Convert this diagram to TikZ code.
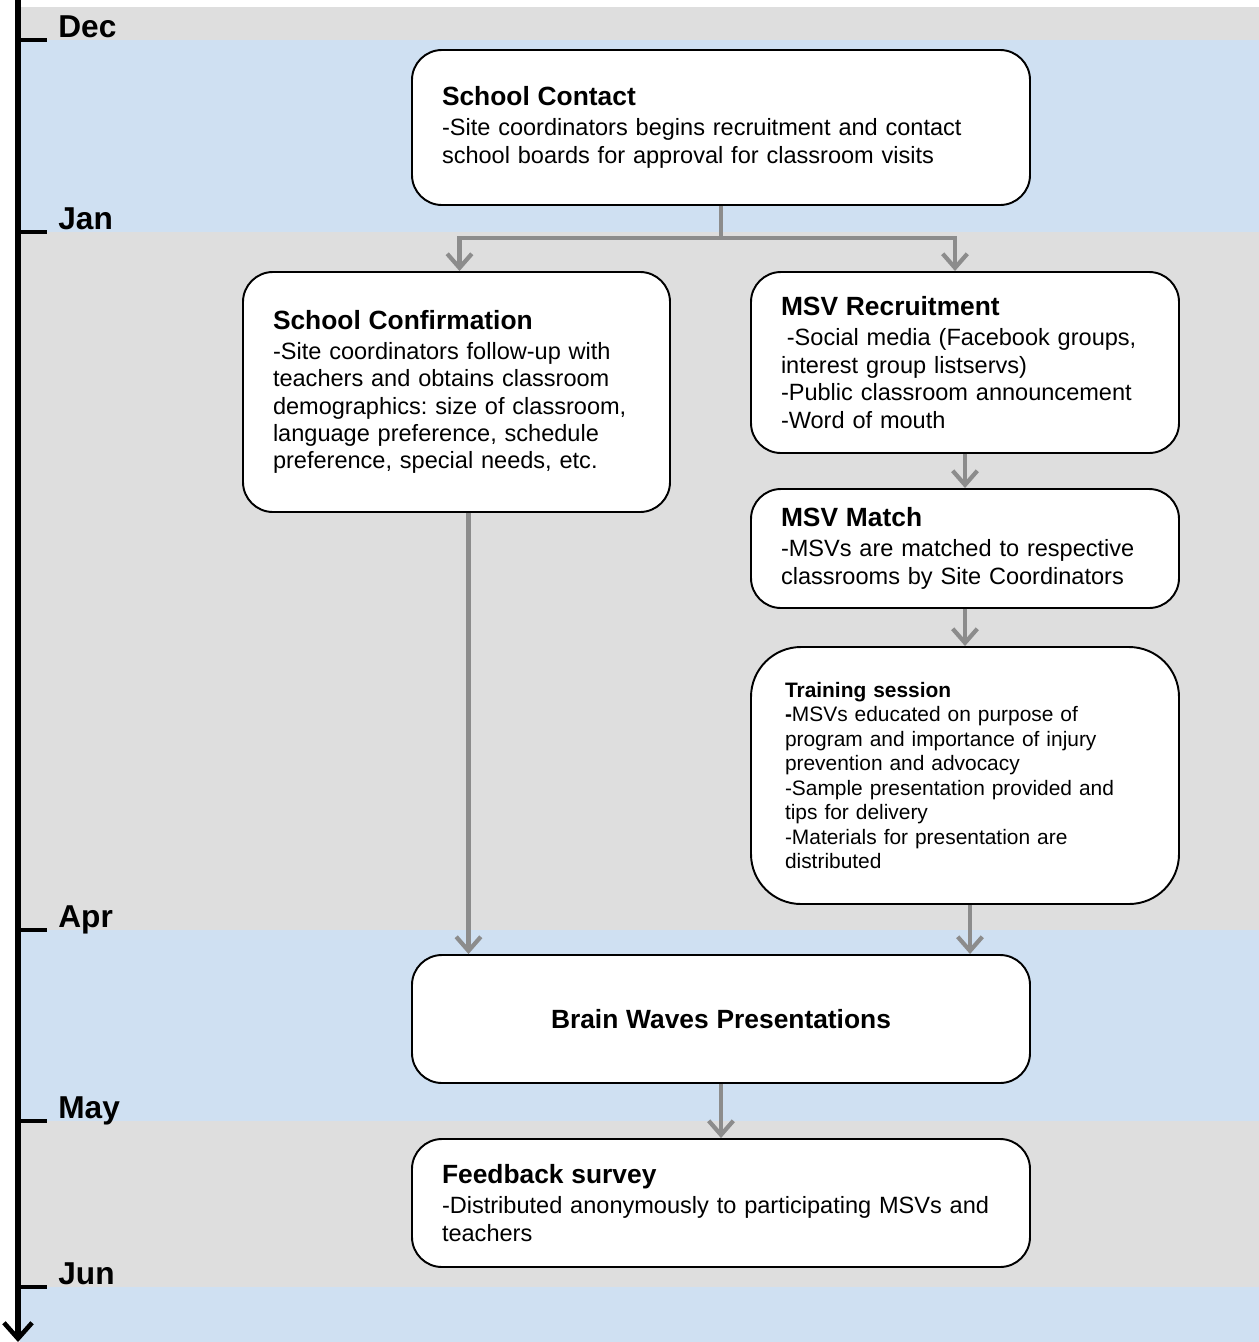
\documentclass[tikz,border=0pt]{standalone}
\usepackage{fontspec}
\setmainfont{Liberation Sans}
\usetikzlibrary{arrows.meta, positioning}
\frenchspacing

\definecolor{bandgray}{RGB}{222,222,222}
\definecolor{bandblue}{RGB}{207,224,242}
\definecolor{flowgray}{RGB}{140,140,140}

\tikzset{
  stage/.style={draw, line width=1.1pt, fill=white, rounded corners=0.6cm, align=left,
    inner xsep=0.6cm, inner ysep=0pt, font=\fontsize{13.4}{15.6}\selectfont},
  flow/.style={draw=flowgray, line width=2.6pt},
  flowarrow/.style={flow, -{Straight Barb[length=8pt,width=14pt,line width=2.4pt]}},
  month/.style={font=\fontsize{18}{20}\selectfont\bfseries, anchor=base west, inner sep=0pt},
}
\newcommand{\stagetitle}[1]{{\fontsize{15}{17}\selectfont\bfseries #1}}

\begin{document}
\begin{tikzpicture}
  \useasboundingbox (0,0) rectangle (25.18,-26.84);

  % month bands
  \foreach \top/\bot/\col in {0.14/0.8/bandgray, 0.8/4.64/bandblue, 4.64/18.6/bandgray,
      18.6/22.42/bandblue, 22.42/25.74/bandgray, 25.74/26.84/bandblue}
    \fill[\col] (0.4,-\top) rectangle (25.18,-\bot);

  % time axis
  \draw[line width=3pt, -{Straight Barb[length=9pt,width=16pt,line width=2.6pt]}] (0.36,0) -- (0.36,-26.84);
  \foreach \y/\m in {0.8/Dec, 4.64/Jan, 18.6/Apr, 22.42/May, 25.74/Jun} {
    \draw[line width=2.2pt] (0.36,-\y) -- (0.94,-\y);
    \node[month] (m-\m) at (1.16,-\y+0.06) {\m};
  }

  % stages
  \node[stage, text width=11.16cm, minimum height=3.1cm] (contact) at (14.42,-2.55)
    {\stagetitle{School Contact}\\[1.5pt]
     -Site coordinators begins recruitment and contact\\
     school boards for approval for classroom visits};
  \node[stage, text width=7.34cm, minimum height=4.8cm] (confirm) at (9.13,-7.84)
    {\stagetitle{School Confirmation}\\[1.5pt]
     -Site coordinators follow-up with\\
     teachers and obtains classroom\\
     demographics: size of classroom,\\
     language preference, schedule\\
     preference, special needs, etc.};
  \node[stage, text width=7.36cm, minimum height=3.62cm] (recruit) at (19.3,-7.25)
    {\stagetitle{MSV Recruitment}\\[1.5pt]
     \hspace{0.25em}-Social media (Facebook groups,\\
     interest group listservs)\\
     -Public classroom announcement\\
     -Word of mouth};
  \node[stage, text width=7.36cm, minimum height=2.38cm] (match) at (19.3,-10.97)
    {\stagetitle{MSV Match}\\[1.5pt]
     -MSVs are matched to respective\\
     classrooms by Site Coordinators};
  \node[stage, rounded corners=1cm, inner xsep=0.68cm, text width=7.2cm, minimum height=5.14cm,
        font=\fontsize{11.9}{13.9}\selectfont] (train) at (19.3,-15.51)
    {\textbf{Training session}\\
     \textbf{-}MSVs educated on purpose of\\
     program and importance of injury\\
     prevention and advocacy\\
     -Sample presentation provided and\\
     tips for delivery\\
     -Materials for presentation are\\
     distributed};
  \node[stage, align=center, text width=11.16cm, minimum height=2.56cm] (brain) at (14.42,-20.38)
    {\stagetitle{Brain Waves Presentations}};
  \node[stage, text width=11.16cm, minimum height=2.56cm] (feedback) at (14.42,-24.06)
    {\stagetitle{Feedback survey}\\[1.5pt]
     -Distributed anonymously to participating MSVs and\\
     teachers};

  % connectors
  \draw[flow] (contact.south) -- ++(0,-0.64) coordinate (split);
  \draw[flowarrow] (split) -| ([xshift=0.06cm]confirm.north);
  \draw[flowarrow] (split) -| ([xshift=-0.2cm]recruit.north);
  \draw[flowarrow] ([xshift=0.24cm]confirm.south) -- ([xshift=0.24cm]confirm.south |- brain.north);
  \draw[flowarrow] (recruit.south) -- (match.north);
  \draw[flowarrow] (match.south) -- (train.north);
  \draw[flowarrow] ([xshift=0.1cm]train.south) -- ([xshift=0.1cm]train.south |- brain.north);
  \draw[flowarrow] (brain.south) -- (feedback.north);
\end{tikzpicture}
\end{document}
